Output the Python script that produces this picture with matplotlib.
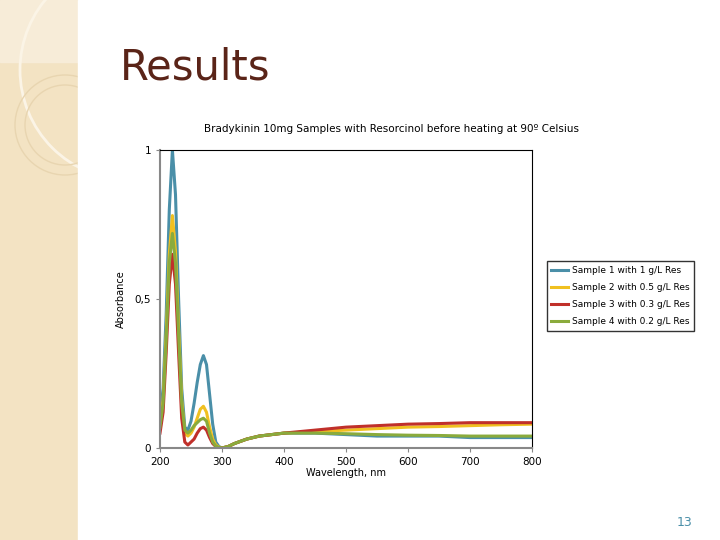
import matplotlib
matplotlib.use("Agg")
import matplotlib.pyplot as plt
from matplotlib.patches import Rectangle, Circle

wl = [200, 205, 210, 215, 220, 225, 230, 235, 240, 245, 250, 255, 260, 265, 270,
      275, 280, 285, 290, 295, 300, 310, 320, 340, 360, 380, 400, 450, 500,
      550, 600, 650, 700, 750, 800]
s1 = [0.10, 0.20, 0.45, 0.80, 1.00, 0.85, 0.50, 0.20, 0.07, 0.06, 0.09, 0.15, 0.22, 0.28, 0.31,
      0.28, 0.18, 0.08, 0.02, 0.005, 0.0, 0.005, 0.015, 0.03, 0.04, 0.045, 0.05, 0.05, 0.045,
      0.04, 0.04, 0.04, 0.035, 0.035, 0.035]
s2 = [0.08, 0.16, 0.38, 0.65, 0.78, 0.66, 0.40, 0.16, 0.05, 0.04, 0.05, 0.07, 0.10, 0.13, 0.14,
      0.12, 0.07, 0.03, 0.01, 0.003, 0.0, 0.005, 0.015, 0.03, 0.04, 0.045, 0.05, 0.055, 0.06,
      0.065, 0.07, 0.072, 0.075, 0.078, 0.08]
s3 = [0.05, 0.12, 0.32, 0.55, 0.65, 0.55, 0.32, 0.10, 0.02, 0.01, 0.02, 0.03, 0.05, 0.065, 0.07,
      0.06, 0.035, 0.015, 0.005, 0.0, 0.0, 0.005, 0.015, 0.03, 0.04, 0.045, 0.05, 0.06, 0.07,
      0.075, 0.08, 0.082, 0.085, 0.085, 0.085]
s4 = [0.07, 0.15, 0.36, 0.62, 0.72, 0.62, 0.38, 0.15, 0.06, 0.05, 0.06, 0.075, 0.085, 0.095, 0.10,
      0.09, 0.05, 0.02, 0.006, 0.002, 0.0, 0.005, 0.015, 0.03, 0.04, 0.045, 0.05, 0.05, 0.048,
      0.045, 0.043, 0.042, 0.04, 0.04, 0.04]
labels = ["Sample 1 with 1 g/L Res", "Sample 2 with 0.5 g/L Res",
          "Sample 3 with 0.3 g/L Res", "Sample 4 with 0.2 g/L Res"]
colors = ["#4a8fa8", "#f0c020", "#c0302a", "#8aab3c"]

fig = plt.figure(figsize=(7.2, 5.4), dpi=100)
fig.patch.set_facecolor("white")

# slide decoration
bg = fig.add_axes([0, 0, 1, 1])
bg.set_xlim(0, 720)
bg.set_ylim(540, 0)
bg.axis("off")
bg.add_patch(Rectangle((0, 0), 78, 540, color="#f3e3c3"))
bg.add_patch(Rectangle((0, 0), 78, 62, color="#f7ecd8"))
bg.add_patch(Circle((130, 70), 110, fill=False, color="#fbf4e6", lw=2))
bg.add_patch(Circle((65, 125), 50, fill=False, color="#e8d5b0", lw=1))
bg.add_patch(Circle((65, 125), 40, fill=False, color="#e8d5b0", lw=1))
bg.add_patch(Rectangle((78, 0), 642, 540, color="white"))
fig.text(120 / 720, 1 - 68 / 540, "Results", fontsize=30, color="#5a2418", va="center")
fig.text(692 / 720, 1 - 523 / 540, "13", fontsize=9, color="#4a8fa8", ha="right", va="center")
fig.text(392 / 720, 1 - 129 / 540, "Bradykinin 10mg Samples with Resorcinol before heating at 90º Celsius",
         fontsize=7.5, ha="center", va="center")

ax = fig.add_axes([160 / 720, 92 / 540, 372 / 720, 298 / 540])
for y, lab, c in zip([s1, s2, s3, s4], labels, colors):
    ax.plot(wl, y, color=c, lw=2.2, label=lab)
ax.set_xlim(200, 800)
ax.set_ylim(0, 1)
ax.set_xticks([200, 300, 400, 500, 600, 700, 800])
ax.set_yticks([0, 0.5, 1])
ax.set_yticklabels(["0", "0,5", "1"])
ax.tick_params(labelsize=7.5, length=3, color="#888888")
for s in ["left", "bottom"]:
    ax.spines[s].set_color("#888888")
    ax.spines[s].set_linewidth(1.5)
ax.set_xlabel("Wavelength, nm", fontsize=7, labelpad=1)
ax.set_ylabel("Absorbance", fontsize=7, labelpad=6)
ax.legend(loc="center left", bbox_to_anchor=(1.04, 0.51), fontsize=6.5, frameon=True,
          fancybox=False, edgecolor="black", handlelength=1.8, handletextpad=0.5,
          borderpad=0.5, labelspacing=0.9, borderaxespad=0)

fig.savefig("out.png", dpi=100)
